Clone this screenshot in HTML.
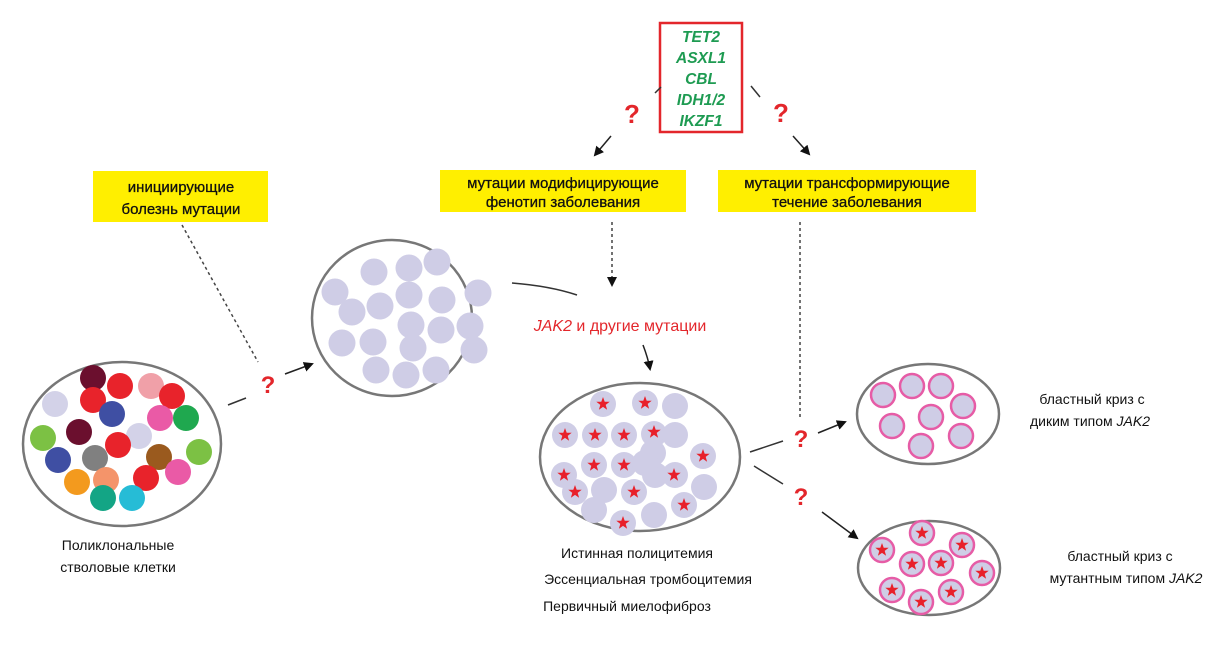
<!DOCTYPE html>
<html><head><meta charset="utf-8"><style>
html,body{margin:0;padding:0;background:#fff;width:1227px;height:647px;overflow:hidden}
svg{display:block}
text{font-family:"Liberation Sans","DejaVu Sans",sans-serif}
</style></head><body>
<svg width="1227" height="647" viewBox="0 0 1227 647" xmlns="http://www.w3.org/2000/svg">
<defs>
<marker id="ah" markerWidth="10" markerHeight="10" refX="8" refY="5" orient="auto" markerUnits="userSpaceOnUse"><path d="M0,0 L10,5 L0,10 z" fill="#111"/></marker>
<path id="st" d="M0,-7 L1.7,-2.3 L6.7,-2.2 L2.7,0.9 L4.1,5.7 L0,2.9 L-4.1,5.7 L-2.7,0.9 L-6.7,-2.2 L-1.7,-2.3 Z" fill="#e8202a"/>
</defs>

<rect x="660" y="23" width="82" height="109" fill="#fff" stroke="#e3262b" stroke-width="2.5"/>
<g font-size="15.5" font-weight="bold" font-style="italic" fill="#1e9b52" text-anchor="middle">
<text x="701" y="42">TET2</text>
<text x="701" y="63">ASXL1</text>
<text x="701" y="84">CBL</text>
<text x="701" y="105">IDH1/2</text>
<text x="701" y="126">IKZF1</text>
</g>
<line x1="661" y1="87" x2="655" y2="93" stroke="#333" stroke-width="1.5"/>
<line x1="751" y1="86" x2="760" y2="97" stroke="#333" stroke-width="1.5"/>
<text x="632" y="123" font-size="26" font-weight="bold" fill="#e3262b" text-anchor="middle">?</text>
<text x="781" y="122" font-size="26" font-weight="bold" fill="#e3262b" text-anchor="middle">?</text>
<line x1="611" y1="136" x2="595" y2="155" stroke="#222" stroke-width="1.5" marker-end="url(#ah)"/>
<line x1="793" y1="136" x2="809" y2="154" stroke="#222" stroke-width="1.5" marker-end="url(#ah)"/>

<rect x="93" y="171" width="175" height="51" fill="#ffef00"/>
<text x="181" y="192" font-size="15" text-anchor="middle" fill="#111" stroke="#111" stroke-width="0.3">инициирующие</text>
<text x="181" y="214" font-size="15" text-anchor="middle" fill="#111" stroke="#111" stroke-width="0.3">болезнь мутации</text>
<rect x="440" y="170" width="246" height="42" fill="#ffef00"/>
<text x="563" y="188" font-size="15" text-anchor="middle" fill="#111" stroke="#111" stroke-width="0.3">мутации модифицирующие</text>
<text x="563" y="207" font-size="15" text-anchor="middle" fill="#111" stroke="#111" stroke-width="0.3">фенотип заболевания</text>
<rect x="718" y="170" width="258" height="42" fill="#ffef00"/>
<text x="847" y="188" font-size="15" text-anchor="middle" fill="#111" stroke="#111" stroke-width="0.3">мутации трансформирующие</text>
<text x="847" y="207" font-size="15" text-anchor="middle" fill="#111" stroke="#111" stroke-width="0.3">течение заболевания</text>

<line x1="182" y1="225" x2="258" y2="362" stroke="#444" stroke-width="1.5" stroke-dasharray="3,3"/>
<line x1="612" y1="222" x2="612" y2="285" stroke="#444" stroke-width="1.5" stroke-dasharray="3,3" marker-end="url(#ah)"/>
<line x1="800" y1="222" x2="800" y2="418" stroke="#444" stroke-width="1.5" stroke-dasharray="3,3"/>

<ellipse cx="122" cy="444" rx="99" ry="82" fill="#fff" stroke="#777" stroke-width="2.5"/>
<g>
<circle cx="55" cy="404" r="13" fill="#d3d2e8"/>
<circle cx="120" cy="386" r="13" fill="#e8232b"/>
<circle cx="151" cy="386" r="13" fill="#f0a0a8"/>
<circle cx="172" cy="396" r="13" fill="#e8232b"/>
<circle cx="93" cy="378" r="13" fill="#6b0f2e"/>
<circle cx="93" cy="400" r="13" fill="#e8232b"/>
<circle cx="112" cy="414" r="13" fill="#3f4fa3"/>
<circle cx="160" cy="418" r="13" fill="#ea5aa6"/>
<circle cx="186" cy="418" r="13" fill="#1fa84f"/>
<circle cx="43" cy="438" r="13" fill="#7cc144"/>
<circle cx="79" cy="432" r="13" fill="#6b0f2e"/>
<circle cx="139" cy="436" r="13" fill="#d3d2e8"/>
<circle cx="118" cy="445" r="13" fill="#e8232b"/>
<circle cx="58" cy="460" r="13" fill="#3f4fa3"/>
<circle cx="95" cy="458" r="13" fill="#808080"/>
<circle cx="159" cy="457" r="13" fill="#9a5a1e"/>
<circle cx="199" cy="452" r="13" fill="#7cc144"/>
<circle cx="77" cy="482" r="13" fill="#f39a1e"/>
<circle cx="106" cy="480" r="13" fill="#f4946a"/>
<circle cx="146" cy="478" r="13" fill="#e8232b"/>
<circle cx="178" cy="472" r="13" fill="#ea5aa6"/>
<circle cx="103" cy="498" r="13" fill="#13a585"/>
<circle cx="132" cy="498" r="13" fill="#26bcd6"/>
</g>
<text x="118" y="550" font-size="14" text-anchor="middle" fill="#111">Поликлональные</text>
<text x="118" y="572" font-size="14" text-anchor="middle" fill="#111">стволовые клетки</text>

<line x1="228" y1="405" x2="246" y2="398" stroke="#333" stroke-width="1.5"/>
<text x="268" y="393" font-size="24" font-weight="bold" fill="#e3262b" text-anchor="middle">?</text>
<line x1="285" y1="374" x2="312" y2="364" stroke="#222" stroke-width="1.5" marker-end="url(#ah)"/>

<ellipse cx="392" cy="318" rx="80" ry="78" fill="#fff" stroke="#777" stroke-width="2.5"/>
<g fill="#cfcde6">
<circle cx="374" cy="272" r="13.5"/><circle cx="409" cy="268" r="13.5"/><circle cx="437" cy="262" r="13.5"/>
<circle cx="335" cy="292" r="13.5"/><circle cx="380" cy="306" r="13.5"/><circle cx="409" cy="295" r="13.5"/>
<circle cx="442" cy="300" r="13.5"/><circle cx="478" cy="293" r="13.5"/><circle cx="352" cy="312" r="13.5"/>
<circle cx="411" cy="325" r="13.5"/><circle cx="441" cy="330" r="13.5"/><circle cx="470" cy="326" r="13.5"/>
<circle cx="342" cy="343" r="13.5"/><circle cx="373" cy="342" r="13.5"/><circle cx="413" cy="348" r="13.5"/>
<circle cx="436" cy="370" r="13.5"/><circle cx="406" cy="375" r="13.5"/><circle cx="474" cy="350" r="13.5"/>
<circle cx="376" cy="370" r="13.5"/>
</g>
<path d="M512,283 Q550,286 577,295" fill="none" stroke="#333" stroke-width="1.5"/>
<text x="620" y="331" font-size="16" fill="#e3262b" text-anchor="middle"><tspan font-style="italic">JAK2</tspan> и другие мутации</text>
<path d="M643,345 Q648,358 650,369" fill="none" stroke="#222" stroke-width="1.5" marker-end="url(#ah)"/>

<ellipse cx="640" cy="457" rx="100" ry="74" fill="#fff" stroke="#777" stroke-width="2.5"/>
<g fill="#cfcde6">
<circle cx="603" cy="404" r="13"/><circle cx="645" cy="403" r="13"/><circle cx="675" cy="406" r="13"/>
<circle cx="565" cy="435" r="13"/><circle cx="595" cy="435" r="13"/><circle cx="624" cy="435" r="13"/>
<circle cx="654" cy="434" r="13"/><circle cx="675" cy="435" r="13"/><circle cx="653" cy="453" r="13"/>
<circle cx="703" cy="456" r="13"/><circle cx="564" cy="475" r="13"/><circle cx="594" cy="465" r="13"/>
<circle cx="624" cy="465" r="13"/><circle cx="655" cy="475" r="13"/><circle cx="675" cy="475" r="13"/>
<circle cx="575" cy="492" r="13"/><circle cx="604" cy="490" r="13"/><circle cx="634" cy="492" r="13"/>
<circle cx="704" cy="487" r="13"/><circle cx="594" cy="510" r="13"/><circle cx="654" cy="515" r="13"/>
<circle cx="623" cy="523" r="13"/><circle cx="684" cy="505" r="13"/><circle cx="645" cy="463" r="13"/>
</g>
<g>
<use href="#st" x="603" y="404"/><use href="#st" x="645" y="403"/>
<use href="#st" x="565" y="435"/><use href="#st" x="595" y="435"/><use href="#st" x="624" y="435"/><use href="#st" x="654" y="432"/>
<use href="#st" x="703" y="456"/><use href="#st" x="564" y="475"/><use href="#st" x="594" y="465"/><use href="#st" x="624" y="465"/>
<use href="#st" x="674" y="475"/><use href="#st" x="575" y="492"/><use href="#st" x="634" y="492"/><use href="#st" x="684" y="505"/>
<use href="#st" x="623" y="523"/>
</g>
<text x="637" y="558" font-size="14" text-anchor="middle" fill="#111">Истинная полицитемия</text>
<text x="648" y="584" font-size="14" text-anchor="middle" fill="#111">Эссенциальная тромбоцитемия</text>
<text x="627" y="611" font-size="14" text-anchor="middle" fill="#111">Первичный миелофиброз</text>

<line x1="750" y1="452" x2="783" y2="441" stroke="#333" stroke-width="1.5"/>
<text x="801" y="447" font-size="24" font-weight="bold" fill="#e3262b" text-anchor="middle">?</text>
<line x1="818" y1="433" x2="845" y2="422" stroke="#222" stroke-width="1.5" marker-end="url(#ah)"/>
<line x1="754" y1="466" x2="783" y2="484" stroke="#333" stroke-width="1.5"/>
<text x="801" y="505" font-size="24" font-weight="bold" fill="#e3262b" text-anchor="middle">?</text>
<line x1="822" y1="512" x2="857" y2="538" stroke="#222" stroke-width="1.5" marker-end="url(#ah)"/>

<ellipse cx="928" cy="414" rx="71" ry="50" fill="#fff" stroke="#777" stroke-width="2.5"/>
<g fill="#cfcde6" stroke="#e65ca6" stroke-width="2.5">
<circle cx="883" cy="395" r="12"/><circle cx="912" cy="386" r="12"/><circle cx="941" cy="386" r="12"/>
<circle cx="963" cy="406" r="12"/><circle cx="892" cy="426" r="12"/><circle cx="931" cy="417" r="12"/>
<circle cx="961" cy="436" r="12"/><circle cx="921" cy="446" r="12"/>
</g>
<text x="1092" y="404" font-size="14" text-anchor="middle" fill="#111">бластный криз с</text>
<text x="1090" y="426" font-size="14" text-anchor="middle" fill="#111">диким типом <tspan font-style="italic">JAK2</tspan></text>

<ellipse cx="929" cy="568" rx="71" ry="47" fill="#fff" stroke="#777" stroke-width="2.5"/>
<g fill="#cfcde6" stroke="#e65ca6" stroke-width="2.5">
<circle cx="922" cy="533" r="12"/><circle cx="882" cy="550" r="12"/><circle cx="912" cy="564" r="12"/>
<circle cx="941" cy="563" r="12"/><circle cx="962" cy="545" r="12"/><circle cx="982" cy="573" r="12"/>
<circle cx="892" cy="590" r="12"/><circle cx="921" cy="602" r="12"/><circle cx="951" cy="592" r="12"/>
</g>
<g>
<use href="#st" x="922" y="533"/><use href="#st" x="882" y="550"/><use href="#st" x="912" y="564"/>
<use href="#st" x="941" y="563"/><use href="#st" x="962" y="545"/><use href="#st" x="982" y="573"/>
<use href="#st" x="892" y="590"/><use href="#st" x="921" y="602"/><use href="#st" x="951" y="592"/>
</g>
<text x="1120" y="561" font-size="14" text-anchor="middle" fill="#111">бластный криз с</text>
<text x="1126" y="583" font-size="14" text-anchor="middle" fill="#111">мутантным типом <tspan font-style="italic">JAK2</tspan></text>
</svg>
</body></html>
